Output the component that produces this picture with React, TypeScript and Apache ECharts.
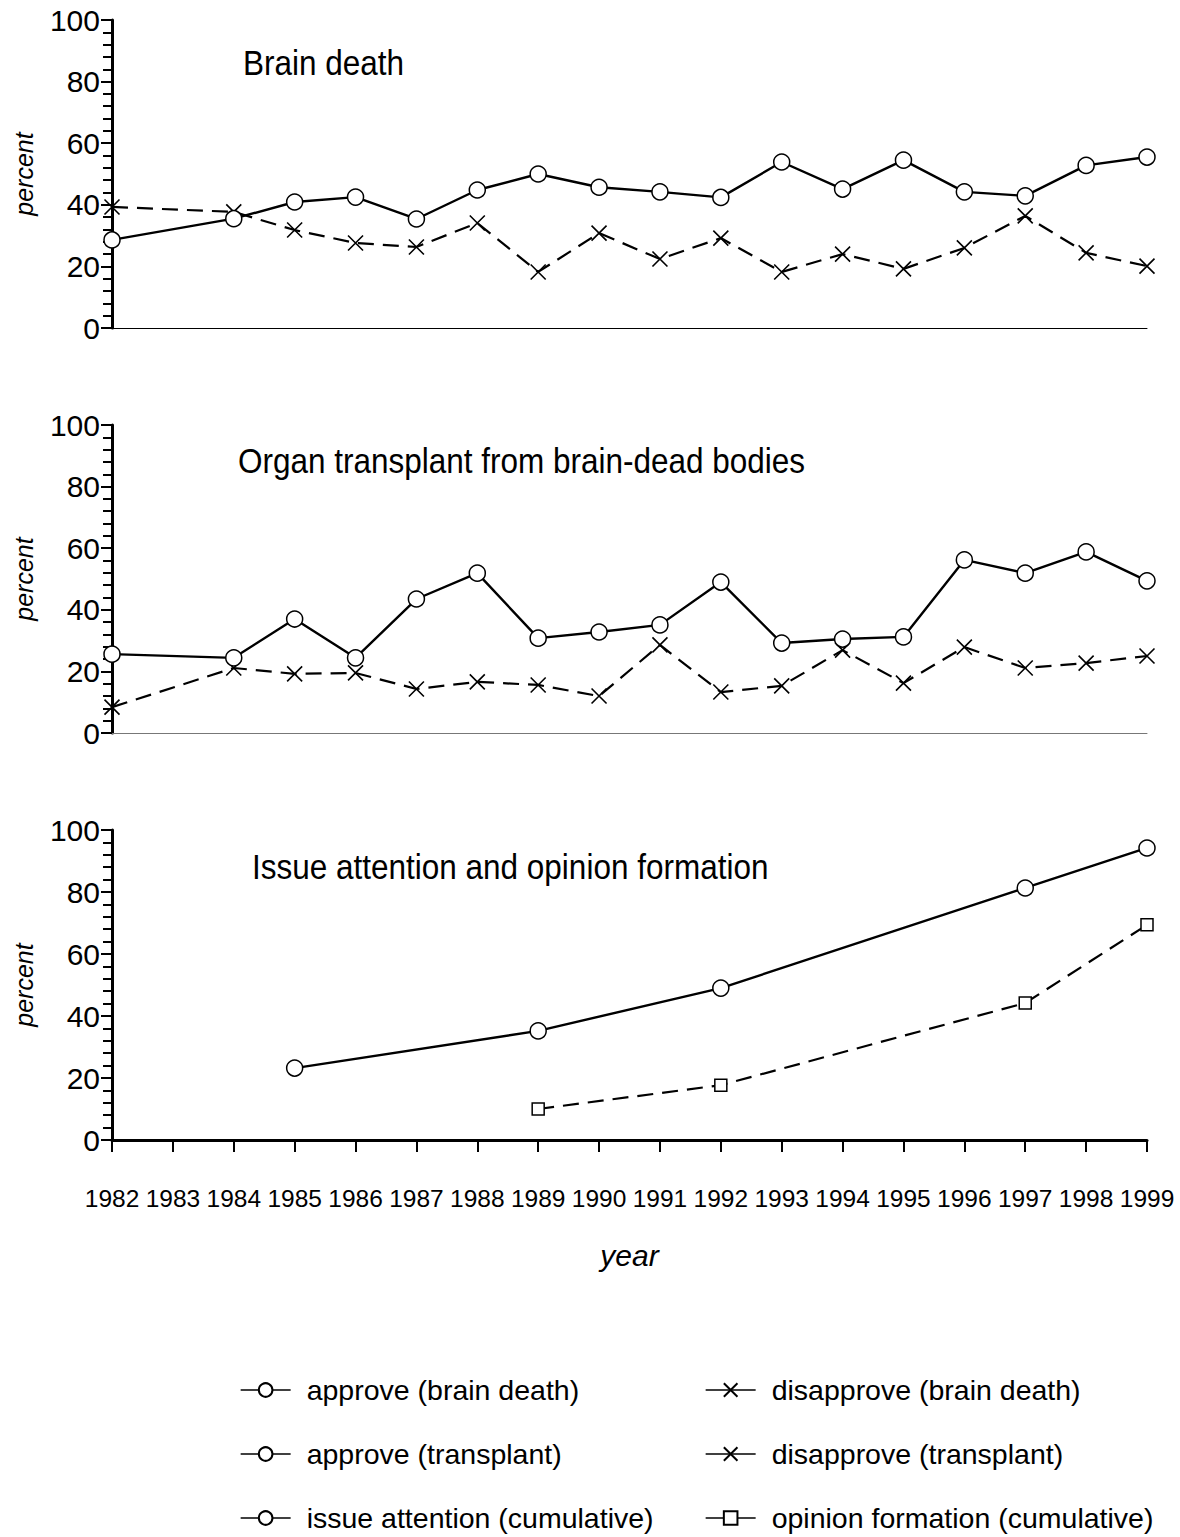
import React, { useEffect, useRef } from "react";
import * as echarts from "echarts";

const years = ["1982","1983","1984","1985","1986","1987","1988","1989","1990","1991","1992","1993","1994","1995","1996","1997","1998","1999"];
const yTicks = [0, 20, 40, 60, 80, 100];

const approveBrain = [28.6, null, 35.5, 40.9, 42.5, 35.4, 44.8, 50.0, 45.7, 44.2, 42.4, 53.9, 45.1, 54.5, 44.2, 42.9, 52.8, 55.5];
const disapproveBrain = [39.3, null, 37.7, 31.8, 27.6, 26.3, 34.1, 18.2, 30.8, 22.4, 29.2, 18.2, 24.0, 19.2, 26.0, 36.4, 24.4, 20.1];
const approveTransplant = [25.6, null, 24.4, 37.0, 24.4, 43.5, 51.9, 30.8, 32.8, 35.1, 49.0, 29.2, 30.5, 31.2, 56.2, 51.9, 58.8, 49.4];
const disapproveTransplant = [8.4, null, 21.1, 19.2, 19.5, 14.3, 16.6, 15.6, 12.0, 28.6, 13.3, 15.3, 26.9, 16.2, 27.9, 21.1, 22.7, 25.0];
const issueAttention = [null, null, null, 23.2, null, null, null, 35.2, null, null, 49.0, null, null, null, null, 81.3, null, 94.2];
const opinionFormation = [null, null, null, null, null, null, null, 10.0, null, null, 17.7, null, null, null, null, 44.2, null, 69.4];

const panelTitles = ["Brain death", "Organ transplant from brain-dead bodies", "Issue attention and opinion formation"];
const seriesNames = [
  "approve (brain death)",
  "disapprove (brain death)",
  "approve (transplant)",
  "disapprove (transplant)",
  "issue attention (cumulative)",
  "opinion formation (cumulative)",
];

const REG = '"Liberation Sans", Arial, sans-serif';
const CROSS = "path://M0,0L16,16M16,0L0,16";

export default function App() {
  const ref = useRef<HTMLDivElement>(null);
  useEffect(() => {
    if (!ref.current) return;
    const chart = echarts.init(ref.current, null, { renderer: "svg" });

    const grids = [
      { left: 112, right: 33, top: 20, height: 308 },
      { left: 112, right: 33, top: 425, height: 308 },
      { left: 112, right: 33, top: 830, height: 310 },
    ];

    const xAxes = grids.map((_, i) => ({
      type: "category",
      gridIndex: i,
      data: years,
      boundaryGap: false,
      axisLine: {
        show: true,
        onZero: false,
        lineStyle: { color: i === 1 ? "#777" : "#000", width: i === 2 ? 3 : 1 },
      },
      axisTick: i === 2
        ? { show: true, inside: false, length: 12, alignWithLabel: true, interval: 0, lineStyle: { color: "#000", width: 2 } }
        : { show: false },
      axisLabel: i === 2
        ? { show: true, interval: 0, margin: 46, fontSize: 24.5, fontFamily: REG, color: "#000" }
        : { show: false },
      splitLine: { show: false },
      name: i === 2 ? "year" : "",
      nameLocation: "middle",
      nameGap: 100,
      nameTextStyle: { fontSize: 30, fontStyle: "italic", fontFamily: REG, color: "#000" },
    }));

    const yAxes = grids.map((_, i) => ({
      type: "value",
      gridIndex: i,
      min: yTicks[0],
      max: yTicks[yTicks.length - 1],
      interval: yTicks[1] - yTicks[0],
      axisLine: { show: true, lineStyle: { color: "#000", width: 3 } },
      axisTick: { show: true, inside: false, length: 11, lineStyle: { color: "#000", width: 2 } },
      minorTick: { show: true, splitNumber: 5, length: 9, lineStyle: { color: "#000", width: 2 } },
      axisLabel: { show: true, margin: 12, fontSize: 30, fontFamily: REG, color: "#000" },
      splitLine: { show: false },
      minorSplitLine: { show: false },
      name: "percent",
      nameLocation: "middle",
      nameGap: 76,
      nameTextStyle: { fontSize: 25, fontStyle: "italic", fontFamily: REG, color: "#000" },
    }));

    const solid = { color: "#000", width: 2.4, type: "solid" };
    const dashed = { color: "#000", width: 2.2, type: [16, 9] };
    const circleStyle = { color: "#fff", borderColor: "#000", borderWidth: 1.5 };
    const crossStyle = { color: "none", borderColor: "#000", borderWidth: 1.6 };

    const mk = (name: string, data: (number | null)[], idx: number, kind: "circle" | "cross" | "square") => ({
      name,
      type: "line",
      xAxisIndex: idx,
      yAxisIndex: idx,
      data,
      connectNulls: true,
      symbol: kind === "circle" ? "circle" : kind === "cross" ? CROSS : "rect",
      symbolSize: kind === "circle" ? 16 : kind === "cross" ? 15 : 12,
      showSymbol: true,
      showAllSymbol: true,
      lineStyle: kind === "circle" ? solid : dashed,
      itemStyle: kind === "cross" ? crossStyle : circleStyle,
      emphasis: { disabled: true },
      z: kind === "circle" ? 3 : 2,
    });

    const series = [
      mk(seriesNames[0], approveBrain, 0, "circle"),
      mk(seriesNames[1], disapproveBrain, 0, "cross"),
      mk(seriesNames[2], approveTransplant, 1, "circle"),
      mk(seriesNames[3], disapproveTransplant, 1, "cross"),
      mk(seriesNames[4], issueAttention, 2, "circle"),
      mk(seriesNames[5], opinionFormation, 2, "square"),
    ];

    const legendBase = {
      orient: "vertical",
      top: 1373,
      itemWidth: 50,
      itemHeight: 17,
      itemGap: 30,
      padding: 0,
      selectedMode: false,
      lineStyle: { width: 1.3, type: "solid" },
      textStyle: { fontSize: 28.5, fontFamily: REG, color: "#000", lineHeight: 34, padding: [0, 0, 0, 11] },
    };

    const titlePos = [
      { x: 243, y: 62 },
      { x: 238, y: 460 },
      { x: 252, y: 866 },
    ];

    chart.setOption({
      animation: false,
      backgroundColor: "#fff",
      graphic: panelTitles.map((t, i) => ({
        type: "text",
        x: titlePos[i].x,
        y: titlePos[i].y,
        scaleX: 0.875,
        silent: true,
        style: {
          text: t,
          fontSize: 36,
          fontFamily: REG,
          fill: "#000",
          verticalAlign: "middle",
          align: "left",
        },
      })),
      legend: [
        { ...legendBase, left: 240, data: [seriesNames[0], seriesNames[2], seriesNames[4]] },
        { ...legendBase, left: 705, data: [seriesNames[1], seriesNames[3], seriesNames[5]] },
      ],
      grid: grids,
      xAxis: xAxes,
      yAxis: yAxes,
      series,
    });

    return () => chart.dispose();
  }, []);

  return (
    <div
      ref={ref}
      style={{ position: "absolute", left: 0, top: 0, width: 1180, height: 1537, background: "#fff" }}
    />
  );
}
